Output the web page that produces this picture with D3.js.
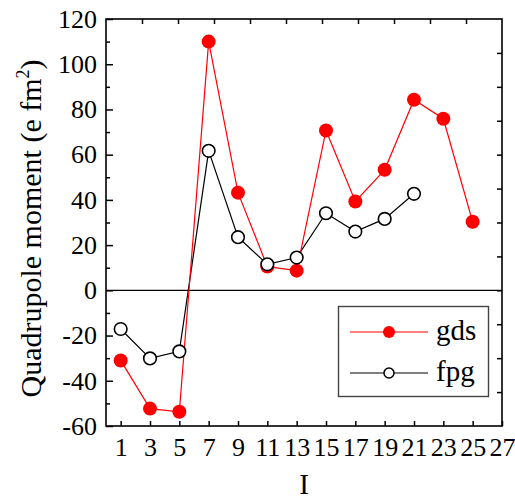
<!DOCTYPE html>
<html>
<head>
<meta charset="utf-8">
<script src="https://cdn.jsdelivr.net/npm/d3@7"></script>
<style>
  body { margin: 0; background: #fff; }
  text { font-family: "Times New Roman", "Liberation Serif", serif; fill: #000; }
</style>
</head>
<body>
<div id="chart"></div>
<script>
// spin values I and quadrupole moments
var spins = [1, 3, 5, 7, 9, 11, 13, 15, 17, 19, 21, 23, 25];
var gds = [-31, -52.3, -53.7, 110, 43.2, 10.5, 8.7, 70.7, 39.3, 53.3, 84.3, 75.9, 30.3];
var fpgSpins = [1, 3, 5, 7, 9, 11, 13, 15, 17, 19, 21];
var fpg = [-17.1, -30.1, -27, 61.7, 23.5, 11.5, 14.5, 34.1, 26, 31.6, 42.7];

var xTickValues = [1, 3, 5, 7, 9, 11, 13, 15, 17, 19, 21, 23, 25, 27];
var yMajorTicks = [-60, -40, -20, 0, 20, 40, 60, 80, 100, 120];
var yMinorTicks = [-50, -30, -10, 10, 30, 50, 70, 90, 110];
// the opposite axes of the original are not linked to the data axes
var topTicks = [1, 2, 3, 4, 5, 6, 7, 8, 9, 10];
var rightTicks = [1, 2, 3, 4, 5, 6, 7, 8, 9, 10, 11];

var width = 515, height = 497;
var pLeft = 106, pRight = 502, pTop = 19, pBottom = 426;
var serif = '"Times New Roman", "Liberation Serif", serif';

var svg = d3.select('#chart').append('svg')
    .attr('width', width)
    .attr('height', height);

var x = d3.scaleLinear().domain([0, 27]).range([pLeft, pRight]);
var y = d3.scaleLinear().domain([-60, 120]).range([pBottom, pTop]);
var xTop = d3.scaleLinear().domain([0, 11]).range([pLeft, pRight]);
var yRight = d3.scaleLinear().domain([0, 12]).range([pBottom, pTop]);

// plain hyphen minus like the original
var fmt = function (d) { return String(d); };

// bottom axis
var gx = svg.append('g')
    .attr('transform', 'translate(0,' + pBottom + ')')
    .call(d3.axisBottom(x).tickValues(xTickValues).tickSize(-5).tickPadding(12).tickFormat(fmt));
gx.attr('font-family', serif);
gx.selectAll('text').style('font-size', '26px');

// left axis, major and minor ticks
var gy = svg.append('g')
    .attr('transform', 'translate(' + pLeft + ',0)')
    .call(d3.axisLeft(y).tickValues(yMajorTicks).tickSize(-7).tickPadding(9).tickFormat(fmt));
gy.attr('font-family', serif);
gy.selectAll('text').style('font-size', '26px');
svg.append('g')
    .attr('transform', 'translate(' + pLeft + ',0)')
    .call(d3.axisLeft(y).tickValues(yMinorTicks).tickSize(-4).tickFormat(''));

svg.append('g')
    .attr('transform', 'translate(0,' + pTop + ')')
    .call(d3.axisTop(xTop).tickValues(topTicks).tickSize(-5).tickFormat(''));
svg.append('g')
    .attr('transform', 'translate(' + pRight + ',0)')
    .call(d3.axisRight(yRight).tickValues(rightTicks).tickSize(-5).tickFormat(''));

svg.selectAll('.domain').remove();
svg.selectAll('.tick line').attr('stroke', '#000').attr('stroke-width', 1.5);

// frame
svg.append('rect')
    .attr('x', pLeft).attr('y', pTop)
    .attr('width', pRight - pLeft).attr('height', pBottom - pTop)
    .attr('fill', 'none').attr('stroke', '#000').attr('stroke-width', 1.6);

// zero line
svg.append('line')
    .attr('x1', pLeft).attr('x2', pRight)
    .attr('y1', y(0)).attr('y2', y(0))
    .attr('stroke', '#000').attr('stroke-width', 1.2);

var gdsData = spins.map(function (s, i) { return { s: s, v: gds[i] }; });
var fpgData = fpgSpins.map(function (s, i) { return { s: s, v: fpg[i] }; });

var line = d3.line()
    .x(function (d) { return x(d.s); })
    .y(function (d) { return y(d.v); });

svg.append('path').datum(fpgData)
    .attr('d', line).attr('fill', 'none')
    .attr('stroke', '#000').attr('stroke-width', 1.2);

svg.append('path').datum(gdsData)
    .attr('d', line).attr('fill', 'none')
    .attr('stroke', '#ff0000').attr('stroke-width', 1.2);

svg.selectAll('circle.gds')
    .data(gdsData).enter().append('circle')
    .attr('class', 'gds')
    .attr('cx', function (d) { return x(d.s); })
    .attr('cy', function (d) { return y(d.v); })
    .attr('r', 7)
    .attr('fill', '#ff0000');

svg.selectAll('circle.fpg')
    .data(fpgData).enter().append('circle')
    .attr('class', 'fpg')
    .attr('cx', function (d) { return x(d.s); })
    .attr('cy', function (d) { return y(d.v); })
    .attr('r', 6.3)
    .attr('fill', '#fff')
    .attr('stroke', '#000')
    .attr('stroke-width', 1.6);

// legend
var lg = svg.append('g');
lg.append('rect')
    .attr('x', 338.5).attr('y', 306.5)
    .attr('width', 150).attr('height', 90)
    .attr('fill', '#fff').attr('stroke', '#444').attr('stroke-width', 1.4);

var legendItems = [
  { name: 'gds', color: '#ff0000', y: 332, filled: true, r: 6 },
  { name: 'fpg', color: '#000', y: 373, filled: false, r: 5 }
];
legendItems.forEach(function (it) {
  lg.append('line')
      .attr('x1', 350).attr('x2', 428)
      .attr('y1', it.y).attr('y2', it.y)
      .attr('stroke', it.color).attr('stroke-width', 1.2);
  lg.append('circle')
      .attr('cx', 389).attr('cy', it.y).attr('r', it.r)
      .attr('fill', it.filled ? it.color : '#fff')
      .attr('stroke', it.filled ? 'none' : '#000')
      .attr('stroke-width', 1.5);
  lg.append('text')
      .attr('x', 436).attr('y', it.y + 8)
      .style('font-size', '29px')
      .text(it.name);
});

// axis titles
var yl = svg.append('text')
    .attr('transform', 'translate(41,' + ((pTop + pBottom) / 2 + 6) + ') rotate(-90)')
    .attr('text-anchor', 'middle')
    .style('font-size', '30px');
yl.append('tspan').text('Quadrupole moment (e fm');
yl.append('tspan').attr('dy', -12).style('font-size', '18px').text('2');
yl.append('tspan').attr('dy', 12).text(')');

svg.append('text')
    .attr('x', (pLeft + pRight) / 2).attr('y', 494)
    .attr('text-anchor', 'middle')
    .style('font-size', '29px')
    .text('I');
</script>
</body>
</html>
